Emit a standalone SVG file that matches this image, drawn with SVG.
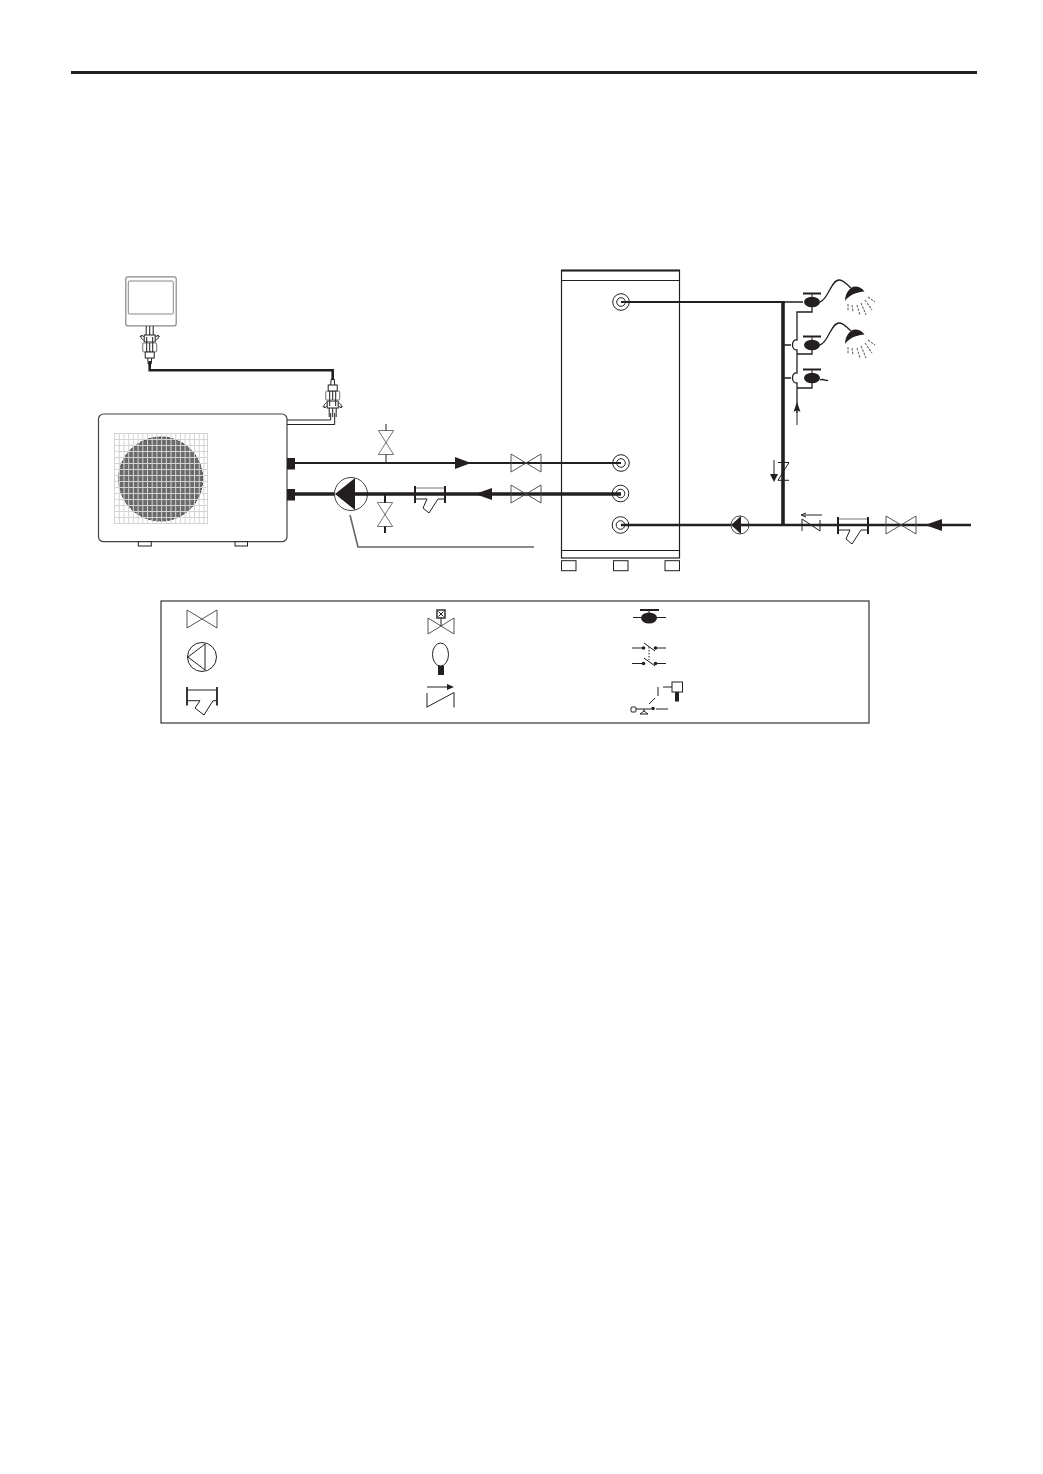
<svg xmlns="http://www.w3.org/2000/svg" width="1043" height="1474" viewBox="0 0 1043 1474">
<style>
.k{fill:none;stroke:#231f20;stroke-width:1}
.s{fill:none;stroke:#444;stroke-width:.9}
.w{fill:#fff;stroke:#231f20;stroke-width:1}
.f{fill:#231f20;stroke:none}
.p1{fill:none;stroke:#231f20;stroke-width:2}
.p2{fill:none;stroke:#231f20;stroke-width:2.600}
.p3{fill:none;stroke:#231f20;stroke-width:3.600}
.g{fill:none;stroke:#d4d4d4;stroke-width:1}
.h{fill:none;stroke:#231f20;stroke-width:1.300}
</style>
<defs>
<g id="valveH"><path class="s" d="M-15-9L15 9V-9L-15 9Z"/></g>
<g id="strainer"><path class="k" d="M-15 5H-3L-7 14L-1 19L8 5H15"/><path d="M-15-6H15" fill="none" stroke="#777" stroke-width="1"/><path d="M-15-8V9M15-8V9" fill="none" stroke="#231f20" stroke-width="2"/></g>
<g id="port"><circle class="k" r="8.300" stroke-width="1.200"/><circle class="k" r="4.300" stroke-width="1.200"/></g>
<g id="tap"><ellipse class="f" rx="8" ry="5.300"/><path class="k" d="M0-8V-3"/><path d="M-9-8.500H9" fill="none" stroke="#231f20" stroke-width="2"/></g>
<g id="head"><path class="f" d="M-10 5C-10-4-4-9.500 0-9.500C4-9.500 7-8 9.500-4.500C3-4-5-2-10 5Z"/><path fill="none" stroke="#666" stroke-width="1.100" stroke-dasharray="2.500 1.200" d="M-7 8V15M-3 9L-2 16M2 9L5 19M6 7L11 19M10 4L17 14M13 1L20 6"/></g>
<g id="gland"><path class="k" d="M-3.500-9V0M3.500-9V0M0-9V0" stroke-width="1.500"/><rect class="w" x="-5.500" width="11" height="7" stroke-width="1.800"/><rect x="-7" y="8" width="14" height="9" rx="1.500" fill="#fff" stroke="#888" stroke-width="1.200"/><path class="k" d="M-3 2V21M3 2V21M0 8V21" stroke-width="1.400"/><rect class="w" x="-4.500" y="17" width="9" height="6" stroke-width="1.800"/><path class="k" d="M-2 23L-1.500 29H1.500L2 23"/><path class="k" stroke-width="1.300" d="M-6 5C-9 4-9 2-8 0M6 5C9 4 9 2 8 0M-10 2L-8 0L-6 2M10 2L8 0L6 2"/></g>
</defs>

<g id="top-rule"><rect x="71" y="71" width="906" height="3" fill="#231f20"/></g>

<g id="controller">
<rect x="125.800" y="276.800" width="50.400" height="49" rx="2" fill="#fff" stroke="#888" stroke-width="1.200"/>
<rect x="128.300" y="281" width="45" height="33" rx="1" fill="#fff" stroke="#888" stroke-width="1"/>
<use href="#gland" transform="translate(149.700,335)"/>
</g>

<g id="outdoor-unit">
<rect x="98.500" y="414" width="188.500" height="127.700" rx="5" fill="#fff" stroke="#444" stroke-width="1.200"/>
<circle cx="160.700" cy="479" r="42" fill="#6a6a6a" stroke="#333" stroke-width="1" stroke-dasharray="3 1"/>
<path class="g" d="M114 433.500H207.700M114 439.500H207.700M114 445.500H207.700M114 451.500H207.700M114 457.500H207.700M114 463.500H207.700M114 469.500H207.700M114 475.500H207.700M114 481.500H207.700M114 487.500H207.700M114 493.500H207.700M114 499.500H207.700M114 505.500H207.700M114 511.500H207.700M114 517.500H207.700M114 523.500H207.700M114.500 433V524M119.300 433V524M124 433V524M128.700 433V524M133.400 433V524M138.100 433V524M142.800 433V524M147.500 433V524M152.200 433V524M156.900 433V524M161.600 433V524M166.300 433V524M171 433V524M175.700 433V524M180.400 433V524M185.100 433V524M189.800 433V524M194.500 433V524M199.200 433V524M203.900 433V524M207.500 433V524"/>
<rect class="w" x="138.300" y="541.700" width="13" height="4.300"/>
<rect class="w" x="235" y="541.700" width="12.500" height="4.300"/>
<rect class="f" x="287" y="458" width="8" height="11.500"/>
<rect class="f" x="287" y="489" width="8" height="11.500"/>
</g>

<g id="tank">
<rect x="561.500" y="270.500" width="118" height="287.500" fill="#fff" stroke="#231f20" stroke-width="1.200"/>
<path d="M561 270.500H680" stroke="#231f20" stroke-width="2"/>
<path class="k" d="M561.500 280.500H679.500M561.500 550.500H679.500"/>
<rect class="w" x="561.500" y="560.700" width="14.500" height="10"/>
<rect class="w" x="613.500" y="560.700" width="14.500" height="10"/>
<rect class="w" x="665" y="560.700" width="14.500" height="10"/>
</g>

<g id="connectors">
<path class="p2" stroke-width="2.800" d="M149.700 361V370.300H332.700V380"/>
<path class="k" d="M287 420H330.700V413M287 424.500H334.700V413"/>
<path class="k" d="M386 424V431M386 454V463"/>
<path class="p1" d="M295 463H621"/>
<path class="p3" d="M295 494H621"/>
<path class="p1" d="M385 494V503M385 526V533"/>
<path class="p1" d="M621 302H783"/>
<path class="p2" d="M621 525H971"/>
<path class="p3" d="M783 301V525"/>
<path d="M350 515L358 547H534" fill="none" stroke="#666" stroke-width="1.600"/>
<path class="h" d="M783 302H803M820 302C828 300 831 280 839 280C844 280 846 284 851 288"/>
<path class="h" d="M820 345C828 343 831 323 839 323C844 323 846 327 851 331"/>
<path class="h" d="M820 380C824 378 826 382 828 380"/>
<path class="h" d="M812 307V312H797V340C791 339 791 350 797 350V373C791 372 791 383 797 383V413M783 345H791M783 378H791M812 350V354H797M812 383V388H797"/>
<path class="k" stroke-width="1.500" d="M797 410V425"/>
<path class="f" d="M797 402L800.500 412L797 410L793.500 412Z"/>
</g>

<g id="valves-and-pumps">
<use href="#valveH" transform="translate(386,442.500) rotate(90) scale(.8,.85)"/>
<use href="#valveH" transform="translate(385,514.500) rotate(90) scale(.8,.85)"/>
<use href="#valveH" transform="translate(526,463)"/>
<use href="#valveH" transform="translate(526,494)"/>
<use href="#valveH" transform="translate(901,525)"/>
<path class="f" d="M455 457L471 463L455 469Z"/>
<path class="f" d="M492 488L475 494L492 500Z"/>
<path class="f" d="M942 519L925 525L942 531Z"/>
<circle cx="351" cy="494" r="16.500" fill="#fff" stroke="#444" stroke-width="1"/>
<path class="f" d="M335 494L355 478V510Z"/>
<path class="p3" d="M355 494H368"/>
<use href="#strainer" transform="translate(430,494)"/>
<use href="#strainer" transform="translate(853,525)"/>
<circle cx="740" cy="525" r="9" fill="#fff" stroke="#444" stroke-width="1"/>
<path class="f" d="M731 525L741 516V534Z"/>
<path class="p2" d="M741 525H749"/>
<path class="k" stroke-width="1.200" d="M778 462.500H789L778 480.300H789"/>
<path class="k" stroke-width="1.200" d="M774 460V478"/>
<path class="f" d="M770 474H778L774 482Z"/>
<path class="k" stroke-width="1.200" d="M802 519V531M802 519L820 531V520"/>
<path class="k" d="M803 515H822"/>
<path class="k" d="M801 515L806 513M801 515L806 517"/>
</g>

<g id="ports">
<use href="#port" transform="translate(621,302)"/>
<use href="#port" transform="translate(621,463)"/>
<use href="#port" transform="translate(620.500,493.500)"/>
<use href="#port" transform="translate(620.500,525)"/>
</g>

<g id="taps">
<use href="#tap" transform="translate(812,302)"/>
<use href="#tap" transform="translate(812,345)"/>
<use href="#tap" transform="translate(812,378)"/>
<use href="#head" transform="translate(855,296)"/>
<use href="#head" transform="translate(855,339)"/>
</g>

<g id="connector-gland">
<use href="#gland" transform="translate(332.700,408) rotate(180)"/>
</g>

<g id="legend">
<rect x="161" y="601" width="708" height="122" fill="#fff" stroke="#231f20" stroke-width="1.100"/>
<use href="#valveH" transform="translate(202,619)"/>
<circle class="k" cx="202" cy="657" r="14.500"/>
<path class="k" d="M188 657L205 644V670Z"/>
<path class="k" d="M187 690H217M187 700.700H200L195 708L204 715L213 700.700H217"/>
<path d="M187 687V705.500M217 687V705.500" fill="none" stroke="#231f20" stroke-width="1.800"/>
<path class="s" d="M428 618L454 634V618L428 634Z"/>
<path class="k" d="M441 626V618"/>
<rect x="437" y="610" width="8" height="8" fill="#fff" stroke="#333" stroke-width="1.500"/>
<path class="k" d="M438.500 611.500L443.500 616.500M443.500 611.500L438.500 616.500"/>
<ellipse class="k" cx="440.500" cy="654.500" rx="8" ry="11.500"/>
<rect class="f" x="438" y="666" width="6" height="9"/>
<path class="k" d="M427 687H449"/>
<path class="f" d="M447 684L454 687L447 690Z"/>
<path class="k" d="M427 707.500V693M427 707L454 692.500V707.500"/>
<path class="k" d="M633 617.500H666"/>
<ellipse class="f" cx="649" cy="618" rx="8" ry="5.500"/>
<path class="k" d="M649 610V614"/>
<path class="p1" d="M640 610H659"/>
<path class="k" d="M632 648H643M656 648H666M632 663.500H643M656 663.500H666M644 643L655 651M644 658L655 666"/>
<path class="k" stroke-dasharray="1.500 1.500" d="M649 647V660"/>
<circle class="f" cx="643.500" cy="648" r="1.800"/><circle class="f" cx="655.500" cy="648" r="1.800"/>
<circle class="f" cx="643.500" cy="663.500" r="1.800"/><circle class="f" cx="655.500" cy="663.500" r="1.800"/>
<rect class="k" x="672" y="682" width="10.500" height="10"/>
<rect class="f" x="675" y="692" width="4" height="9.500"/>
<path class="k" d="M663 687H672M658 687V696M649 704L655 698M636 709H651M656 709H668M644 709V711M640 714L644 711L648 714Z"/>
<rect class="k" x="631" y="707" width="5" height="5" rx="1"/>
<circle class="f" cx="653" cy="708.500" r="1.800"/>
</g>
</svg>
